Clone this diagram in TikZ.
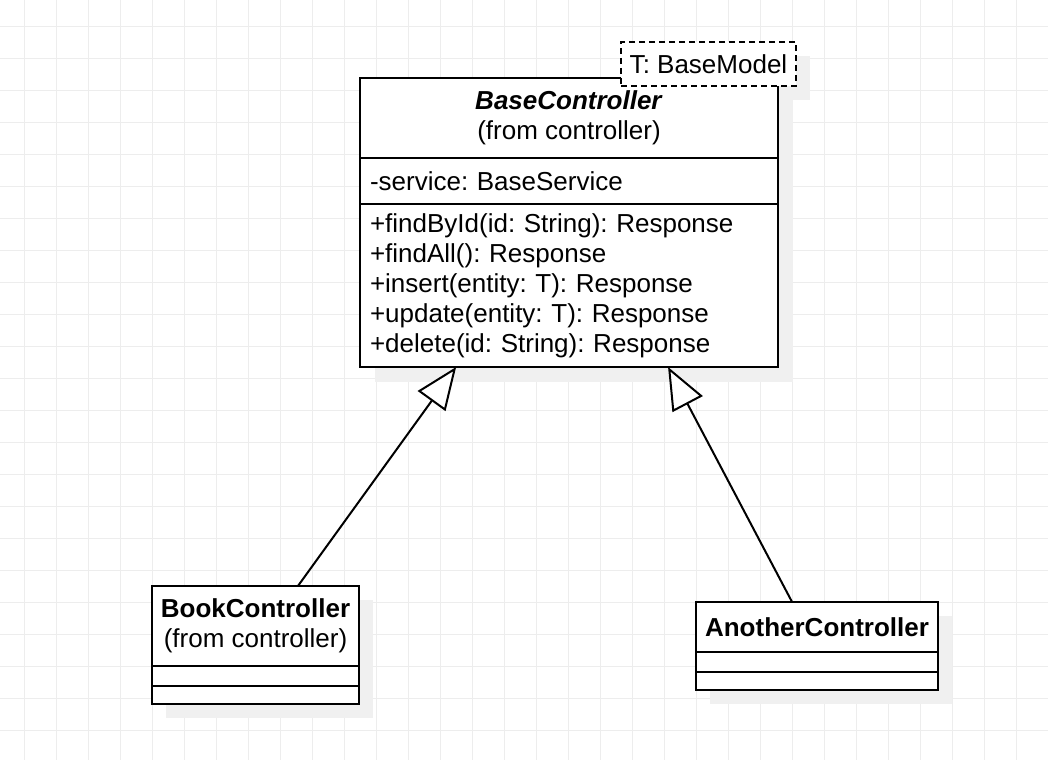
\documentclass[tikz,border=0pt]{standalone}
\usepackage{fontspec}
\setmainfont{Liberation Sans}
\usetikzlibrary{arrows.meta, positioning, calc, backgrounds}
\frenchspacing

\begin{document}
\begin{tikzpicture}[
    x=0.75pt, y=-0.75pt,
    font=\fontsize{19.5}{22.5}\selectfont,
    part/.style={rectangle, draw=black, fill=white, line width=1.5pt, inner sep=0pt, outer sep=0pt},
    head/.style={part, align=center},
    members/.style={part, align=left, inner xsep=7.5pt},
    tparam/.style={part, dashed, dash pattern=on 4.5pt off 3pt, minimum width=131.25pt, minimum height=33pt},
    inherit/.style={-{Triangle[fill=white, length=31.5pt, width=25.5pt]}, line width=1.5pt},
    shade/.style={fill=black!6},
    gridline/.style={draw=black!7, line width=0.75pt},
]

\useasboundingbox (0,0) rectangle (1048,760);

% Base class
\node[head, minimum width=313.5pt, minimum height=60pt] (baseHead) at (569,118) {\textbf{\textit{BaseController}}\\(from controller)};
\node[members, text width=298.5pt, minimum height=34.5pt, below=0pt of baseHead] (baseAttr) {-service: BaseService};
\node[members, text width=298.5pt, minimum height=122.25pt, below=0pt of baseAttr] (baseOps) {+findById(id: String): Response\\+findAll(): Response\\+insert(entity: T): Response\\+update(entity: T): Response\\+delete(id: String): Response};

% Type parameter
\node[tparam] (tpl) at (708.5,64) {T: BaseModel};

% Subclasses
\node[head, minimum width=155.25pt, minimum height=60pt] (bookHead) at (255.5,626) {\textbf{BookController}\\(from controller)};
\node[part, minimum width=155.25pt, minimum height=15pt, below=0pt of bookHead] (bookAttr) {};
\node[part, minimum width=155.25pt, minimum height=13.5pt, below=0pt of bookAttr] (bookOps) {};

\node[head, minimum width=181.5pt, minimum height=37.5pt] (anotherHead) at (817,627) {\textbf{AnotherController}};
\node[part, minimum width=181.5pt, minimum height=15pt, below=0pt of anotherHead] (anotherAttr) {};
\node[part, minimum width=181.5pt, minimum height=13.5pt, below=0pt of anotherAttr] (anotherOps) {};

% Edges
\draw[inherit] ($(bookHead.north west)!0.705!(bookHead.north east)$) -- ($(baseOps.south west)!0.23!(baseOps.south east)$);
\draw[inherit] ($(anotherHead.north west)!0.397!(anotherHead.north east)$) -- ($(baseOps.south west)!0.737!(baseOps.south east)$);

% Grid and shadows
\begin{scope}[on background layer]
\fill[white] (0,0) rectangle (1048,760);
\foreach \gx in {0,...,32} \draw[gridline] (24+32*\gx,0) -- (24+32*\gx,760);
\foreach \gy in {0,...,23} \draw[gridline] (0,26+32*\gy) -- (1048,26+32*\gy);
\fill[shade] ($(tpl.north west)+(14,14)$) rectangle ($(tpl.south east)+(14,14)$);
\fill[shade] ($(baseHead.north west)+(15,15)$) rectangle ($(baseOps.south east)+(15,15)$);
\fill[shade] ($(bookHead.north west)+(14,14)$) rectangle ($(bookOps.south east)+(14,14)$);
\fill[shade] ($(anotherHead.north west)+(14,14)$) rectangle ($(anotherOps.south east)+(14,14)$);
\end{scope}

\end{tikzpicture}
\end{document}
